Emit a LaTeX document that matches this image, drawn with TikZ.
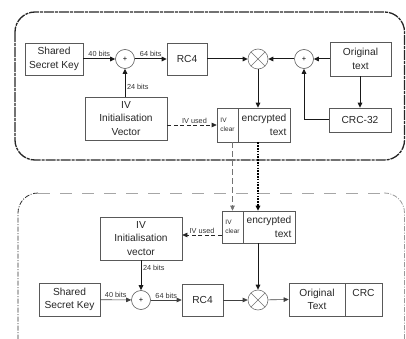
\documentclass[tikz,border=0pt]{standalone}
\usepackage{fontspec}
\setmainfont{Liberation Sans}
\usetikzlibrary{arrows.meta}
\begin{document}
\begin{tikzpicture}[x=1pt,y=-1pt,
  box/.style={draw=black!65, line width=0.6pt, text=black!85, align=center,
    inner sep=0pt, font=\fontsize{10.2}{13.5}\selectfont},
  tiny/.style={font=\fontsize{6.5}{9.5}\selectfont, align=left},
  sum/.style={circle, draw=black!65, line width=0.6pt, fill=white, minimum size=19pt,
    inner sep=0pt, font=\fontsize{7.5}{8}\selectfont},
  mix/.style={circle, draw=black!55, line width=0.6pt, fill=white, minimum size=20pt,
    inner sep=0pt, path picture={
      \draw[black!55, line width=0.5pt] (path picture bounding box.north west) -- (path picture bounding box.south east);
      \draw[black!55, line width=0.5pt] (path picture bounding box.north east) -- (path picture bounding box.south west);}},
  lbl/.style={font=\fontsize{7.3}{8}\selectfont, text=black!80, inner sep=1.5pt},
  flow/.style={-{Triangle[length=5pt,width=4.5pt]}, line width=1pt, black!90},
  flowthin/.style={-{Triangle[length=5pt,width=4.5pt]}, line width=0.6pt, black!75},
  ivline/.style={-{Triangle[length=5pt,width=4.5pt]}, line width=0.6pt, black!85, dash pattern=on 4pt off 2.5pt},
  framesend/.style={line width=1.3pt, black!85, dash pattern=on 10pt off 1pt on 3pt off 1pt},
  framerecvtop/.style={line width=1pt, black!35, dash pattern=on 12pt off 10pt},
  framerecvside/.style={line width=0.8pt, black!80, dash pattern=on 5pt off 1.5pt on 1pt off 1.5pt},
]
\useasboundingbox (0,0) rectangle (406,339);

% sender frame
\draw[framesend, rounded corners=20pt] (15,12) rectangle (404.5,160);

% receiver frame (runs off the bottom of the page)
\begin{scope}
\clip (0,0) rectangle (406,339);
\draw[framerecvtop] (38,193) -- (384,193);
\draw[framerecvside, rounded corners=20pt] (38,193) -- (18,193) -- (18,360);
\draw[framerecvside, black!40, rounded corners=20pt] (384,193) -- (404.5,193) -- (404.5,360) -- (384,360);
\end{scope}

% ---- sender ----
\node[box, minimum width=58pt, minimum height=32pt] (ssk1) at (54,59) {Shared\\Secret Key};
\node[sum] (plus1) at (125,59) {+};
\node[box, minimum width=40pt, minimum height=32pt] (rc4a) at (187,59) {RC4};
\node[mix] (xor1) at (258,59) {};
\node[sum] (plus2) at (304,59) {+};
\node[box, minimum width=61pt, minimum height=34pt] (orig1) at (360.5,59) {Original\\text};
\node[box, minimum width=62pt, minimum height=24pt] (crc1) at (360,120) {CRC-32};
\node[box, minimum width=82pt, minimum height=43pt] (iv1) at (126,118.5) {IV\\Initialisation\\Vector};
\node[box, tiny, minimum width=21pt, minimum height=34pt] (ivc1) at (227.5,125) {IV\\clear};
\node[box, align=right, minimum width=52pt, minimum height=34pt] (enc1) at (264,125) {encrypted\\text};

\draw[flow] (ssk1) -- node[lbl, above] {40 bits} (plus1);
\draw[flow] (plus1) -- node[lbl, above] {64 bits} (rc4a);
\draw[flow] (iv1.north -| plus1) -- node[lbl, right, pos=0.35] {24 bits} (plus1.south);
\draw[flow] (rc4a) -- (xor1);
\draw[flow] (plus2) -- (xor1);
\draw[flow] (orig1.west |- plus2) -- (plus2);
\draw[flow] (orig1.south -| crc1) -- (crc1.north);
\draw[flow] (crc1.west) -| (plus2.south);
\draw[flow] (xor1.south) -- (xor1.south |- enc1.north);
\draw[ivline] (iv1.east |- ivc1.west) -- node[lbl, above, pos=0.55] {IV used} (ivc1.west);

% ---- receiver ----
\node[box, minimum width=82pt, minimum height=43pt] (iv2) at (141,238.5) {IV\\Initialisation\\vector};
\node[box, tiny, minimum width=21pt, minimum height=32pt] (ivc2) at (232.5,227) {IV\\clear};
\node[box, align=right, minimum width=52pt, minimum height=32pt] (enc2) at (269,227) {encrypted\\text};
\node[sum] (plus3) at (141,300) {+};
\node[box, minimum width=61pt, minimum height=33pt] (ssk2) at (69.5,299.5) {Shared\\Secret Key};
\node[box, minimum width=41pt, minimum height=32pt] (rc4b) at (202.5,300) {RC4};
\node[mix] (xor2) at (258,300) {};
\node[box, minimum width=56pt, minimum height=33pt] (orig2) at (317,299.5) {Original\\Text};
\node[box, minimum width=37pt, minimum height=33pt] (crc2) at (363.5,299.5) {CRC\\\phantom{Text}};

% transmission between the two frames
\draw[-{Triangle[length=5pt,width=4.5pt]}, line width=0.6pt, black!55, dash pattern=on 6pt off 3pt]
  (ivc1.south -| ivc2.north) -- (ivc2.north);
\draw[-{Triangle[length=5pt,width=4.5pt]}, line width=1.6pt, black, dash pattern=on 1.6pt off 1.2pt]
  (xor1 |- enc1.south) -- (xor1 |- enc2.north);

\draw[ivline] ([yshift=-8pt]ivc2.west) -- node[lbl, above] {IV used} ([yshift=-8pt]ivc2.west -| iv2.east);
\draw[flow] (iv2.south) -- node[lbl, right, pos=0.27] {24 bits} (plus3.north);
\draw[flowthin] (ssk2) -- node[lbl, above] {40 bits} (plus3);
\draw[flowthin] (plus3) -- node[lbl, above] {64 bits} (rc4b);
\draw[flowthin] (rc4b) -- (xor2);
\draw[flow] (xor2 |- enc2.south) -- (xor2.north);
\draw[flowthin] (xor2) -- (orig2.west);
\end{tikzpicture}
\end{document}
